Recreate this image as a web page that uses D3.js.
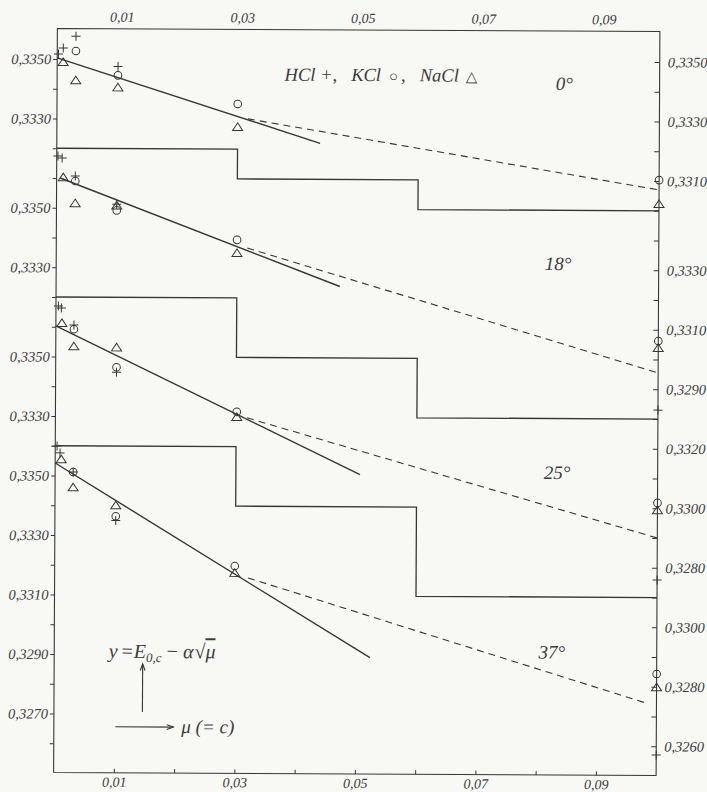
<!DOCTYPE html>
<html>
<head>
<meta charset="utf-8">
<title>E0,c gegen mu</title>
<style>
  body { margin: 0; background: #f8f8f5; }
  text { font-family: "Liberation Serif", "DejaVu Serif", serif; font-style: italic; fill: #3c3c3c; }
</style>
</head>
<body>
<svg width="707" height="792" id="mainsvg" style="background-color: #f8f8f5"></svg>
<script src="https://cdn.jsdelivr.net/npm/d3@7"></script>
<script>
// values: mu = c, E in volt
const temps = ["0°", "18°", "25°", "37°"];
const panelRow = [0, 5, 10, 14]; // tick row where 0,3350 sits for each temperature
const leftLabels = [[0.3350, 0.3330], [0.3350, 0.3330], [0.3350, 0.3330], [0.3350, 0.3330, 0.3310, 0.3290, 0.3270]];
const rightLabels = [[0.3350, 0.3330, 0.3310], [0.3330, 0.3310, 0.3290], [0.3320, 0.3300, 0.3280], [0.3300, 0.3280, 0.3260]];
const xTicks = [0.01, 0.02, 0.03, 0.04, 0.05, 0.06, 0.07, 0.08, 0.09];
const xLabels = [0.01, 0.03, 0.05, 0.07, 0.09];

// [panel, mu, E]
const hcl = [
  [0, 0.0002, 0.33517], [0, 0.0010, 0.33537], [0, 0.0031, 0.33577], [0, 0.0101, 0.33476],
  [1, 0.0002, 0.33674], [1, 0.0009, 0.33667], [1, 0.0031, 0.33607], [1, 0.0100, 0.33513], [1, 0.1, 0.32830],
  [2, 0.0004, 0.33670], [2, 0.0009, 0.33663], [2, 0.0030, 0.33606], [2, 0.0101, 0.33448], [2, 0.1, 0.32759],
  [3, 0.0003, 0.33599], [3, 0.0008, 0.33576], [3, 0.0030, 0.33512], [3, 0.0101, 0.33350], [3, 0.1, 0.32571]
];
const kcl = [
  [0, 0.0031, 0.33527], [0, 0.0101, 0.33446], [0, 0.0300, 0.33352], [0, 0.1, 0.33103],
  [1, 0.0031, 0.33590], [1, 0.0100, 0.33492], [1, 0.0300, 0.33395], [1, 0.1, 0.33062],
  [2, 0.0030, 0.33592], [2, 0.0101, 0.33465], [2, 0.0301, 0.33317], [2, 0.1, 0.33018],
  [3, 0.0030, 0.33512], [3, 0.0101, 0.33364], [3, 0.0299, 0.33199], [3, 0.1, 0.32843]
];
const nacl = [
  [0, 0.0010, 0.33490], [0, 0.0031, 0.33429], [0, 0.0101, 0.33406], [0, 0.0300, 0.33275], [0, 0.1, 0.33023],
  [1, 0.0011, 0.33603], [1, 0.0031, 0.33516], [1, 0.0100, 0.33509], [1, 0.0300, 0.33351], [1, 0.1, 0.33039],
  [2, 0.0010, 0.33613], [2, 0.0030, 0.33535], [2, 0.0101, 0.33532], [2, 0.0301, 0.33300], [2, 0.1, 0.32994],
  [3, 0.0010, 0.33555], [3, 0.0030, 0.33461], [3, 0.0101, 0.33401], [3, 0.0299, 0.33176], [3, 0.1, 0.32799]
];
// fitted lines y = E0,c - a*sqrt(mu): [panel, mu0, E0, mu1, E1]
const solidLines = [
  [0, 0.0000, 0.33504, 0.0437, 0.33221],
  [1, 0.0006, 0.33600, 0.0471, 0.33240],
  [2, 0.0000, 0.33603, 0.0506, 0.33108],
  [3, 0.0000, 0.33542, 0.0524, 0.32893]
];
const dashedLines = [
  [0, 0.0317, 0.33302, 0.1000, 0.33070],
  [1, 0.0317, 0.33368, 0.1000, 0.32955],
  [2, 0.0318, 0.33297, 0.1000, 0.32900],
  [3, 0.0321, 0.33159, 0.0983, 0.32745]
];
// panel separators: tick rows of the three levels, breaks at mu = 0.03 and 0.06
const stepRows = [[3, 4, 5], [8, 10, 12], [13, 15, 18]];
const stepBreaks = [0.03, 0.06];

const svg = d3.select("#mainsvg");
const ink = "#363636";
// the printed plate sits slightly skewed
const g = svg.append("g").attr("transform", "rotate(0.29, 356, 400)");

const x = d3.scaleLinear().domain([0, 0.1]).range([55.5, 658]);
const row = d3.scaleLinear().domain([0, 23]).range([60.5, 744.75]);
const yScales = panelRow.map((r) => d3.scaleLinear().domain([0.335, 0.335 - 0.023]).range([row(r), row(r + 23)]));
const frameTop = 30, frameBottom = 774;
const fmt = (v) => d3.format(".4f")(v).replace(".", ",");

// frame
g.append("path")
  .attr("d", `M${x(0)},${frameBottom}V${frameTop}H${x(0.1)}V${frameBottom}H${x(0)}`)
  .attr("fill", "none").attr("stroke", ink).attr("stroke-width", 1.1);

// label lookup per tick row
const leftByRow = {}, rightByRow = {};
leftLabels.forEach((vals, p) => vals.forEach((v) => (leftByRow[Math.round(panelRow[p] + (0.335 - v) * 1000)] = fmt(v))));
rightLabels.forEach((vals, p) => vals.forEach((v) => (rightByRow[Math.round(panelRow[p] + (0.335 - v) * 1000)] = fmt(v))));

const styleAxis = (sel, size) => {
  sel.select(".domain").remove();
  sel.attr("font-family", null).attr("font-size", null);
  sel.selectAll("line").attr("stroke", ink);
  sel.selectAll("text").style("font-size", size + "px").attr("fill", "#3c3c3c");
};
const xFmt = (d) => d3.format(".2f")(d).replace(".", ",");

g.append("g").attr("transform", `translate(${x(0)},0)`)
  .call(d3.axisLeft(row).tickValues(d3.range(24)).tickSize(4).tickPadding(2).tickFormat((r) => leftByRow[r] || ""))
  .call(styleAxis, 14.5);

g.append("g").attr("transform", `translate(${x(0.1)},0)`)
  .call(d3.axisRight(row).tickValues(d3.range(24)).tickSize(-5).tickPadding(8).tickFormat((r) => rightByRow[r] || ""))
  .call(styleAxis, 14.5);

g.append("g").attr("transform", `translate(0,${frameBottom})`)
  .call(d3.axisBottom(x).tickValues(xTicks).tickSize(-4).tickPadding(4)
    .tickFormat((d) => (xLabels.some((l) => Math.abs(l - d) < 1e-9) ? xFmt(d) : "")))
  .call(styleAxis, 14);

g.append("g").attr("transform", `translate(4,${frameTop})`)
  .call(d3.axisTop(x).tickValues(xLabels).tickSize(0).tickPadding(7).tickFormat(xFmt))
  .call(styleAxis, 14);

// step separators
const stepLine = d3.line().curve(d3.curveStepAfter);
stepRows.forEach((rows) => {
  const pts = [[x(0), row(rows[0])], [x(stepBreaks[0]), row(rows[1])], [x(stepBreaks[1]), row(rows[2])], [x(0.1), row(rows[2])]];
  g.append("path").attr("d", stepLine(pts)).attr("fill", "none").attr("stroke", ink).attr("stroke-width", 1.3);
});

// fitted lines
const seg = d3.line().x((d) => x(d[0])).y((d) => d[1]);
g.append("g").selectAll("path").data(solidLines).join("path")
  .attr("d", (d) => seg([[d[1], yScales[d[0]](d[2])], [d[3], yScales[d[0]](d[4])]]))
  .attr("stroke", ink).attr("stroke-width", 1.4).attr("fill", "none");
g.append("g").selectAll("path").data(dashedLines).join("path")
  .attr("d", (d) => seg([[d[1], yScales[d[0]](d[2])], [d[3], yScales[d[0]](d[4])]]))
  .attr("stroke", ink).attr("stroke-width", 1.1).attr("stroke-dasharray", "7,5").attr("fill", "none");

// measured points
const px = (d) => x(d[1]), py = (d) => yScales[d[0]](d[2]);
g.append("g").selectAll("path").data(hcl).join("path")
  .attr("d", "M-4.5,0H4.5M0,-4.5V4.5")
  .attr("transform", (d) => `translate(${px(d)},${py(d)})`)
  .attr("stroke", ink).attr("stroke-width", 1).attr("fill", "none");
g.append("g").selectAll("circle").data(kcl).join("circle")
  .attr("cx", px).attr("cy", py).attr("r", 3.8)
  .attr("stroke", ink).attr("stroke-width", 1).attr("fill", "none");
g.append("g").selectAll("path").data(nacl).join("path")
  .attr("d", "M0,-4L5,3.6H-5Z")
  .attr("transform", (d) => `translate(${px(d)},${py(d)})`)
  .attr("stroke", ink).attr("stroke-width", 1).attr("fill", "none");

// temperature labels
const tempPos = [[0.0842, 0.33424], [0.0833, 0.33319], [0.0833, 0.33117], [0.0826, 0.32913]];
temps.forEach((t, i) => {
  g.append("text").attr("x", x(tempPos[i][0])).attr("y", yScales[i](tempPos[i][1]) + 6)
    .attr("text-anchor", "middle").style("font-size", "19px").text(t);
});

// legend line
const leg = g.append("text").attr("x", 283).attr("y", 81).style("font-size", "18.5px");
leg.append("tspan").text("HCl +,");
leg.append("tspan").attr("dx", 14).text("KCl");
leg.append("tspan").attr("dx", 8).style("font-style", "normal").style("font-size", "15px").text("○");
leg.append("tspan").attr("dx", 3).text(",");
leg.append("tspan").attr("dx", 14).text("NaCl");
leg.append("tspan").attr("dx", 7).style("font-style", "normal").style("font-size", "15px").text("△");

// formula and arrows
const f = g.append("text").attr("x", 110).attr("y", 659).style("font-size", "20px");
f.append("tspan").text("y");
f.append("tspan").style("font-style", "normal").attr("dx", 4).text("=");
f.append("tspan").attr("dx", 1).text("E");
f.append("tspan").attr("dy", 4).style("font-size", "13px").text("0,c");
f.append("tspan").attr("dy", -4).attr("dx", 5).style("font-style", "normal").text("−");
f.append("tspan").attr("dx", 5).text("α");
f.append("tspan").attr("dx", 1).style("font-style", "normal").text("√");
f.append("tspan").style("text-decoration", "overline").text("μ");

const arrow = (x1, y1, x2, y2) => {
  g.append("line").attr("x1", x1).attr("y1", y1).attr("x2", x2).attr("y2", y2)
    .attr("stroke", ink).attr("stroke-width", 1.1);
  const a = Math.atan2(y2 - y1, x2 - x1);
  const h = (da) => [x2 - 7 * Math.cos(a + da), y2 - 7 * Math.sin(a + da)];
  g.append("path").attr("d", d3.line()([h(0.35), [x2, y2], h(-0.35)]))
    .attr("fill", "none").attr("stroke", ink).attr("stroke-width", 1.1);
};
arrow(144, 713, 144, 665);
arrow(117, 728, 175, 728);
g.append("text").attr("x", 183).attr("y", 734).style("font-size", "19px").text("μ (= c)");
</script>
</body>
</html>
